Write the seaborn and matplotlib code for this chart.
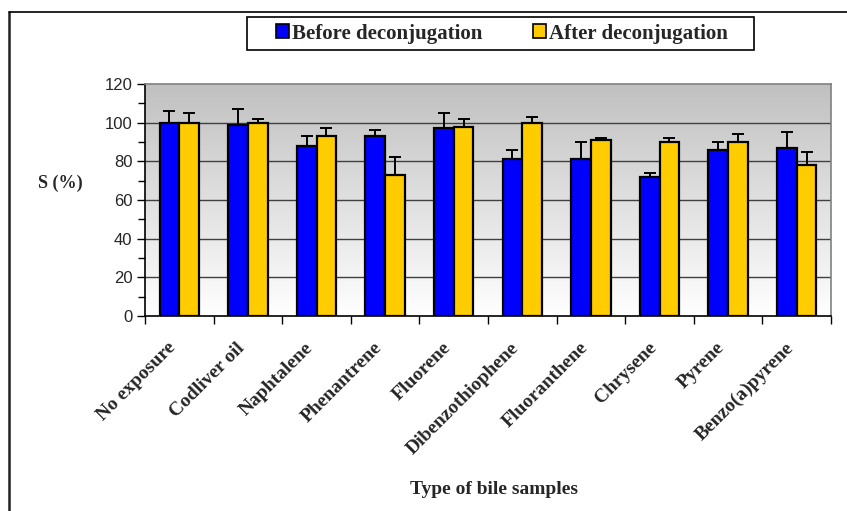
import numpy as np
import pandas as pd
import matplotlib
matplotlib.use('Agg')
import matplotlib.pyplot as plt
import matplotlib.patches as mpatches
from matplotlib.lines import Line2D
from matplotlib.ticker import MultipleLocator
import seaborn as sns

# values
samples = ['No exposure', 'Codliver oil', 'Naphtalene', 'Phenantrene', 'Fluorene',
           'Dibenzothiophene', 'Fluoranthene', 'Chrysene', 'Pyrene', 'Benzo(a)pyrene']
before = [100, 99, 88, 93, 97, 81, 81, 72, 86, 87]
before_err = [6, 8, 5, 3, 8, 5, 9, 2, 4, 8]
after = [100, 100, 93, 73, 98, 100, 91, 90, 90, 78]
after_err = [5, 2, 4, 9, 4, 3, 1, 2, 4, 7]
groups = ['Before deconjugation', 'After deconjugation']
colors = ['#0000FF', '#FFCC00']

df = pd.DataFrame({
    'sample': samples * 2,
    'group': [groups[0]] * len(samples) + [groups[1]] * len(samples),
    'value': before + after,
})
errs = [before_err, after_err]

sns.set_style('white')
plt.rcParams['font.family'] = ['Liberation Sans', 'DejaVu Sans']
serif = ['Liberation Serif', 'DejaVu Serif']

fig = plt.figure(figsize=(8.47, 5.11), dpi=100)
W, H = 847, 511
ax = fig.add_axes([145 / W, 1 - 316 / H, (831 - 145) / W, (316 - 84) / H])

# grey-to-white gradient behind the bars
grad = np.linspace(1.0, 0.0, 256).reshape(-1, 1)
cmap = matplotlib.colors.LinearSegmentedColormap.from_list('g', ['#FFFFFF', '#C0C0C0'])
ax.imshow(grad, extent=[-0.5, 9.5, 0, 120], aspect='auto', cmap=cmap,
          vmin=0, vmax=1, zorder=0)

for yv in range(20, 120, 20):
    ax.axhline(yv, color='#404040', linewidth=1, zorder=1)

sns.barplot(data=df, x='sample', y='value', hue='group', palette=colors,
            saturation=1, width=0.575, edgecolor='black', linewidth=1.6,
            errorbar=None, legend=False, ax=ax, zorder=3)

# upper error bars only
for cont, err in zip(ax.containers, errs):
    xs = [p.get_x() + p.get_width() / 2 for p in cont.patches]
    hs = [p.get_height() for p in cont.patches]
    ax.errorbar(xs, hs, yerr=[np.zeros(len(err)), err], fmt='none',
                ecolor='black', elinewidth=1.4, capsize=4.6, capthick=1.4, zorder=2)

ax.set_xlim(-0.5, 9.5)
ax.set_ylim(0, 120)
ax.yaxis.set_major_locator(MultipleLocator(20))
ax.yaxis.set_minor_locator(MultipleLocator(10))
ax.set_xticks(np.arange(-0.5, 10, 1))
ax.set_xticklabels([])
ax.tick_params(axis='x', which='major', direction='out', length=6, width=1, color='black')
ax.tick_params(axis='y', which='major', direction='out', length=6, width=1,
               color='black', labelsize=12, pad=3)
ax.tick_params(axis='y', which='minor', direction='out', length=5, width=1, color='black', left=True)
ax.tick_params(left=True, bottom=True)

for i, name in enumerate(samples):
    ax.text(i, -12, name, rotation=45, ha='right', va='top',
            family=serif, fontweight='bold', fontsize=14)

ax.set_xlabel('')
ax.set_ylabel('')
for side in ['left', 'bottom']:
    ax.spines[side].set_color('black')
    ax.spines[side].set_linewidth(1.2)
for side in ['top', 'right']:
    ax.spines[side].set_visible(True)
    ax.spines[side].set_color('#808080')
    ax.spines[side].set_linewidth(1.2)

fig.text(494 / W, 1 - 490 / H, 'Type of bile samples', ha='center', va='center',
         family=serif, fontweight='bold', fontsize=14)
fig.text(60 / W, 1 - 183 / H, 'S (%)', ha='center', va='center',
         family=serif, fontweight='bold', fontsize=13)

# legend box on top
handles = [mpatches.Patch(facecolor=c, edgecolor='black', linewidth=1.2, label=g)
           for c, g in zip(colors, groups)]
fig.legend(handles=handles, loc='center', bbox_to_anchor=(502 / W, 1 - 33.5 / H),
           ncol=2, frameon=False,
           prop={'family': serif, 'weight': 'bold', 'size': 15},
           handlelength=0.62, handleheight=0.62, handletextpad=0.15, columnspacing=2.4,
           borderpad=0, borderaxespad=0)
fig.add_artist(mpatches.Rectangle((247 / W, 1 - 50 / H), 507 / W, 33 / H,
                                  transform=fig.transFigure, facecolor='none',
                                  edgecolor='black', linewidth=1.2))

# outer chart frame (only left and top edges are in view)
fig.add_artist(Line2D([9 / W, 9 / W], [0, 1 - 12 / H], color='#202020', linewidth=1.8))
fig.add_artist(Line2D([9 / W, 1], [1 - 12 / H, 1 - 12 / H], color='black', linewidth=1.2))

fig.savefig('out.png', dpi=100)
